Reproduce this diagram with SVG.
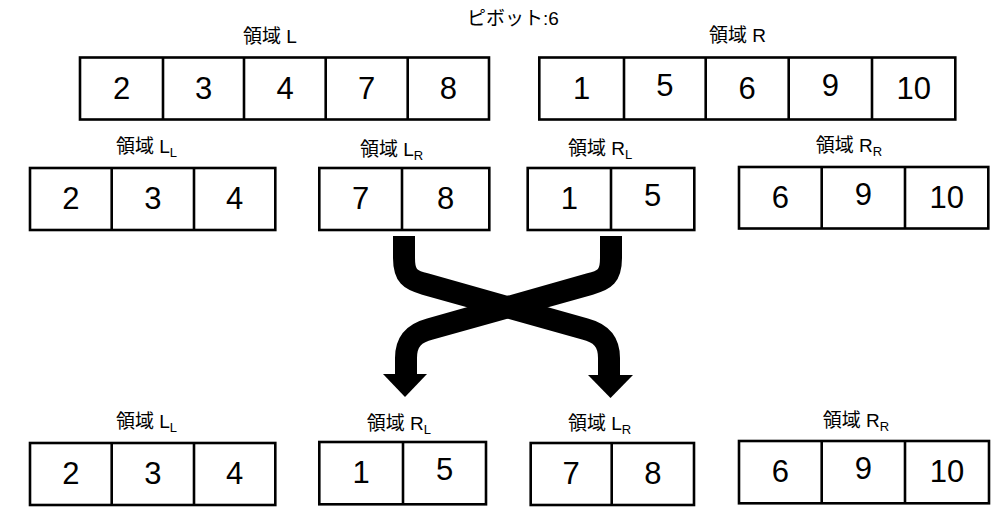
<svg xmlns="http://www.w3.org/2000/svg" width="1001" height="513" viewBox="0 0 1001 513">
<style>
.box{fill:#fff;stroke:#000;stroke-width:2.6}
.div{stroke:#000;stroke-width:2.6}
.num{font-family:"Liberation Sans","DejaVu Sans",sans-serif;font-size:31px;text-anchor:middle;fill:#000}
.lbl{font-family:"Liberation Sans","Noto Sans CJK JP",sans-serif;font-size:19px;fill:#000}
.sub{font-size:13px}
.arr{fill:none;stroke:#000;stroke-width:22;stroke-linejoin:round}
</style>
<rect width="1001" height="513" fill="#fff"/>
<g id="pivot"><text class="lbl" x="467" y="25" font-size="18">ピボット:6</text></g>

<g id="regionL">
<text class="lbl" x="243" y="43">領域 L</text>
<rect class="box" x="80" y="57.5" width="409" height="62"/>
<path class="div" d="M163,57.5V119.5M244,57.5V119.5M325.7,57.5V119.5M407.7,57.5V119.5"/>
<text class="num" x="121.5" y="99">2</text><text class="num" x="203.5" y="99">3</text><text class="num" x="285" y="99">4</text><text class="num" x="366.7" y="99">7</text><text class="num" x="448.3" y="99">8</text>
</g>

<g id="regionR">
<text class="lbl" x="709" y="42">領域 R</text>
<rect class="box" x="539.3" y="57.5" width="416" height="62"/>
<path class="div" d="M624,57.5V119.5M705.7,57.5V119.5M788.7,57.5V119.5M872,57.5V119.5"/>
<text class="num" x="581.7" y="99">1</text><text class="num" x="664.8" y="96">5</text><text class="num" x="747.2" y="99">6</text><text class="num" x="830.3" y="96">9</text><text class="num" x="913.7" y="99">10</text>
</g>

<g id="regionLL1">
<text class="lbl" x="116" y="153">領域 L<tspan class="sub" dy="4">L</tspan></text>
<rect class="box" x="30" y="168" width="245.3" height="62"/>
<path class="div" d="M111.7,168V230M194,168V230"/>
<text class="num" x="70.8" y="209">2</text><text class="num" x="152.8" y="209">3</text><text class="num" x="234.7" y="209">4</text>
</g>

<g id="regionLR1">
<text class="lbl" x="360" y="156">領域 L<tspan class="sub" dy="4">R</tspan></text>
<rect class="box" x="319.3" y="168" width="170" height="62"/>
<path class="div" d="M402,168V230"/>
<text class="num" x="360.7" y="209">7</text><text class="num" x="445.7" y="209">8</text>
</g>

<g id="regionRL1">
<text class="lbl" x="568" y="155">領域 R<tspan class="sub" dy="4">L</tspan></text>
<rect class="box" x="527.7" y="168" width="166.6" height="62"/>
<path class="div" d="M611,168V230"/>
<text class="num" x="569.3" y="209">1</text><text class="num" x="652.7" y="206">5</text>
</g>

<g id="regionRR1">
<text class="lbl" x="815.7" y="152">領域 R<tspan class="sub" dy="4">R</tspan></text>
<rect class="box" x="739" y="167" width="249.3" height="61.5"/>
<path class="div" d="M821.7,167V228.5M905,167V228.5"/>
<text class="num" x="780.3" y="208">6</text><text class="num" x="863.3" y="205">9</text><text class="num" x="946.7" y="208">10</text>
</g>

<g id="connectors">
<path class="arr" d="M404,236V258C404,276 410,280 425,284L585,329C600,333 609,340 609,358V376"/>
<polygon points="588,375 633,375 610.5,398" fill="#000"/>
<path class="arr" d="M611,236V258C611,276 605,280 590,284L430,329C415,333 406,340 406,358V375"/>
<polygon points="383,374 427,374 405,397" fill="#000"/>
</g>

<g id="regionLL2">
<text class="lbl" x="116" y="428">領域 L<tspan class="sub" dy="4">L</tspan></text>
<rect class="box" x="30" y="443" width="245.3" height="62"/>
<path class="div" d="M111.7,443V505M194,443V505"/>
<text class="num" x="70.8" y="484">2</text><text class="num" x="152.8" y="484">3</text><text class="num" x="234.7" y="484">4</text>
</g>

<g id="regionRL2">
<text class="lbl" x="366.7" y="430">領域 R<tspan class="sub" dy="4">L</tspan></text>
<rect class="box" x="319.3" y="442" width="166.7" height="62.3"/>
<path class="div" d="M403,442V504.3"/>
<text class="num" x="361" y="483">1</text><text class="num" x="444.5" y="480">5</text>
</g>

<g id="regionLR2">
<text class="lbl" x="568" y="430">領域 L<tspan class="sub" dy="4">R</tspan></text>
<rect class="box" x="530.7" y="443" width="163.3" height="62"/>
<path class="div" d="M611.7,443V505"/>
<text class="num" x="571.2" y="484">7</text><text class="num" x="652.8" y="484">8</text>
</g>

<g id="regionRR2">
<text class="lbl" x="822.7" y="427">領域 R<tspan class="sub" dy="4">R</tspan></text>
<rect class="box" x="739" y="441" width="250" height="62.3"/>
<path class="div" d="M821.7,441V503.3M905,441V503.3"/>
<text class="num" x="780.3" y="482">6</text><text class="num" x="863.3" y="479">9</text><text class="num" x="947" y="482">10</text>
</g>
</svg>
